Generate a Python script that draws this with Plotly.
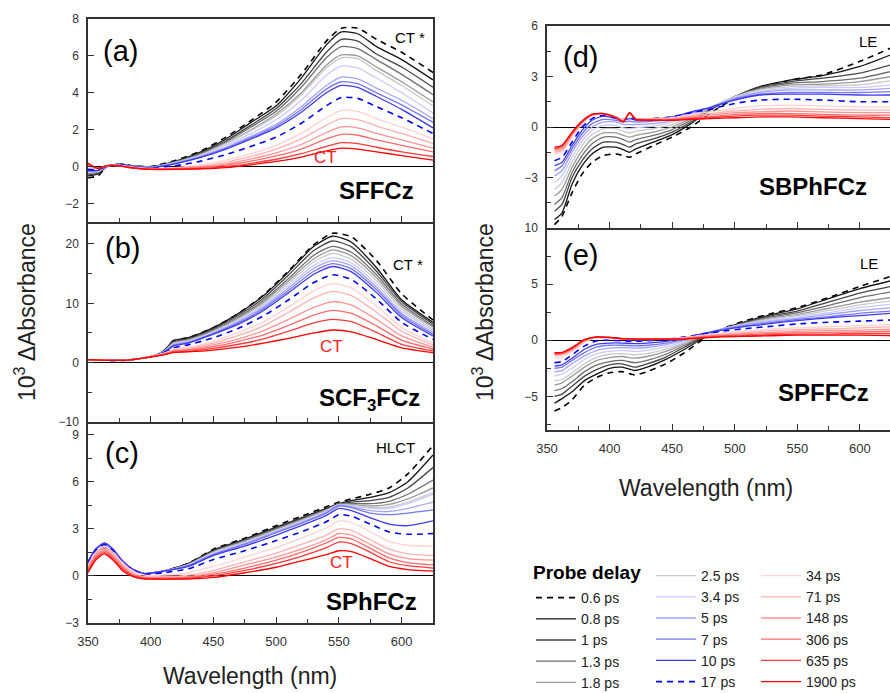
import plotly.graph_objects as go

# ---------------- data ----------------
delays = ["0.6 ps", "0.8 ps", "1 ps", "1.3 ps", "1.8 ps", "2.5 ps", "3.4 ps", "5 ps", "7 ps",
          "10 ps", "17 ps", "34 ps", "71 ps", "148 ps", "306 ps", "635 ps", "1900 ps"]

colors = ["#000000", "#151515", "#454545", "#6e6e6e", "#9a9a9a", "#c9c9c9",
          "#cacaff", "#a4a4ff", "#7676f2", "#3c3cee", "#0000ff",
          "#ffd2d2", "#ffb2b2", "#ff9292", "#ff6a6a", "#ff3a3a", "#ff0000"]

legend_cols = ["legend"] * 5 + ["legend2"] * 6 + ["legend3"] * 6

# (a) SFFCz
wl_a = [350, 358, 365, 375, 385, 400, 420, 440, 460, 480, 500, 520, 540, 552, 565, 580, 600, 625]
SFFCz = [
    [-0.6, -0.5, 0.0, 0.15, 0.05, 0.0, 0.35, 0.85, 1.6, 2.5, 3.5, 5.0, 6.8, 7.5, 7.5, 6.9, 6.2, 5.1],
    [-0.5, -0.4, 0.0, 0.15, 0.05, 0.0, 0.3, 0.8, 1.5, 2.4, 3.3, 4.8, 6.6, 7.3, 7.2, 6.5, 5.8, 4.7],
    [-0.45, -0.35, 0.0, 0.12, 0.03, -0.02, 0.28, 0.75, 1.4, 2.25, 3.15, 4.5, 6.2, 6.9, 6.8, 6.1, 5.4, 4.3],
    [-0.4, -0.3, 0.0, 0.12, 0.02, -0.03, 0.26, 0.7, 1.35, 2.15, 3.0, 4.3, 5.9, 6.5, 6.4, 5.8, 5.0, 3.9],
    [-0.35, -0.3, 0.02, 0.12, 0.02, -0.04, 0.24, 0.66, 1.28, 2.0, 2.85, 4.0, 5.5, 6.05, 6.0, 5.4, 4.6, 3.5],
    [-0.3, -0.25, 0.02, 0.12, 0.02, -0.04, 0.23, 0.64, 1.24, 1.95, 2.75, 3.9, 5.35, 5.9, 5.85, 5.2, 4.4, 3.3],
    [-0.3, -0.25, 0.02, 0.12, 0.02, -0.05, 0.22, 0.6, 1.15, 1.8, 2.55, 3.6, 4.95, 5.45, 5.35, 4.8, 4.0, 2.9],
    [-0.25, -0.2, 0.03, 0.12, 0.02, -0.05, 0.2, 0.56, 1.05, 1.65, 2.3, 3.25, 4.4, 4.85, 4.75, 4.25, 3.6, 2.6],
    [-0.25, -0.2, 0.03, 0.12, 0.02, -0.05, 0.18, 0.53, 1.0, 1.58, 2.2, 3.1, 4.2, 4.6, 4.5, 4.0, 3.35, 2.4],
    [-0.2, -0.2, 0.03, 0.12, 0.02, -0.06, 0.16, 0.5, 0.95, 1.5, 2.1, 2.95, 4.0, 4.4, 4.3, 3.8, 3.1, 2.1],
    [-0.15, -0.15, 0.04, 0.1, 0.0, -0.08, 0.05, 0.3, 0.65, 1.1, 1.6, 2.35, 3.3, 3.75, 3.7, 3.25, 2.65, 1.8],
    [0.0, -0.1, 0.05, 0.08, -0.02, -0.1, -0.05, 0.1, 0.35, 0.7, 1.15, 1.8, 2.65, 3.05, 3.0, 2.6, 2.15, 1.5],
    [0.05, -0.1, 0.05, 0.06, -0.05, -0.12, -0.08, 0.03, 0.25, 0.55, 0.95, 1.5, 2.25, 2.6, 2.55, 2.2, 1.8, 1.25],
    [0.1, -0.1, 0.05, 0.05, -0.05, -0.13, -0.1, -0.02, 0.15, 0.42, 0.75, 1.2, 1.85, 2.15, 2.1, 1.8, 1.45, 1.0],
    [0.1, -0.1, 0.05, 0.05, -0.06, -0.14, -0.12, -0.06, 0.08, 0.3, 0.58, 0.95, 1.5, 1.75, 1.7, 1.45, 1.15, 0.8],
    [0.15, -0.1, 0.05, 0.04, -0.06, -0.15, -0.14, -0.1, 0.0, 0.18, 0.4, 0.7, 1.1, 1.3, 1.25, 1.05, 0.8, 0.55],
    [0.2, -0.1, 0.05, 0.04, -0.07, -0.15, -0.15, -0.12, -0.05, 0.1, 0.28, 0.52, 0.85, 1.0, 0.95, 0.8, 0.6, 0.35],
]

# (b) SCF3FCz
wl_b = [350, 365, 380, 395, 405, 412, 418, 430, 450, 470, 490, 510, 530, 545, 560, 580, 600, 625]
SCF3FCz = [
    [0.5, 0.4, 0.4, 0.8, 1.3, 2.3, 3.7, 4.2, 5.9, 8.3, 11.4, 15.5, 19.9, 21.8, 21.2, 17.2, 11.6, 7.2],
    [0.5, 0.4, 0.4, 0.8, 1.3, 2.3, 3.7, 4.2, 5.9, 8.3, 11.3, 15.3, 19.6, 21.3, 20.3, 16.0, 10.6, 6.8],
    [0.5, 0.4, 0.4, 0.8, 1.3, 2.2, 3.5, 4.0, 5.7, 8.0, 10.9, 14.8, 18.9, 20.5, 19.5, 15.4, 10.3, 6.5],
    [0.5, 0.4, 0.4, 0.8, 1.3, 2.2, 3.4, 3.9, 5.5, 7.7, 10.5, 14.2, 18.1, 19.6, 18.6, 14.8, 9.9, 6.2],
    [0.5, 0.4, 0.4, 0.8, 1.3, 2.1, 3.3, 3.8, 5.4, 7.5, 10.2, 13.8, 17.5, 19.0, 18.0, 14.3, 9.5, 6.0],
    [0.5, 0.4, 0.4, 0.8, 1.3, 2.1, 3.2, 3.7, 5.2, 7.3, 9.9, 13.4, 17.0, 18.4, 17.4, 13.8, 9.1, 5.7],
    [0.5, 0.4, 0.4, 0.8, 1.3, 2.0, 3.1, 3.6, 5.1, 7.1, 9.6, 13.0, 16.4, 17.7, 16.8, 13.2, 8.7, 5.4],
    [0.5, 0.4, 0.4, 0.8, 1.3, 2.0, 3.0, 3.5, 5.0, 6.9, 9.4, 12.6, 15.9, 17.2, 16.3, 12.7, 8.3, 5.1],
    [0.5, 0.4, 0.4, 0.8, 1.3, 2.0, 2.9, 3.4, 4.9, 6.7, 9.1, 12.2, 15.4, 16.7, 15.8, 12.3, 8.0, 4.8],
    [0.5, 0.4, 0.4, 0.8, 1.3, 1.9, 2.8, 3.3, 4.8, 6.5, 8.8, 11.8, 14.9, 16.2, 15.3, 11.8, 7.6, 4.5],
    [0.5, 0.4, 0.4, 0.8, 1.3, 1.8, 2.5, 3.0, 4.2, 5.8, 7.9, 10.6, 13.5, 14.8, 14.0, 10.7, 6.8, 3.9],
    [0.5, 0.4, 0.4, 0.8, 1.3, 1.7, 2.2, 2.6, 3.6, 5.1, 6.9, 9.4, 12.1, 13.3, 12.6, 9.5, 5.9, 3.3],
    [0.5, 0.4, 0.4, 0.8, 1.3, 1.6, 2.1, 2.4, 3.3, 4.6, 6.2, 8.5, 10.9, 12.0, 11.3, 8.5, 5.3, 3.0],
    [0.5, 0.4, 0.4, 0.8, 1.2, 1.5, 2.0, 2.2, 3.0, 4.0, 5.4, 7.3, 9.3, 10.3, 9.7, 7.3, 4.5, 2.6],
    [0.5, 0.4, 0.4, 0.8, 1.2, 1.5, 1.9, 2.1, 2.7, 3.6, 4.7, 6.3, 8.0, 8.8, 8.3, 6.2, 3.8, 2.3],
    [0.5, 0.4, 0.4, 0.8, 1.2, 1.4, 1.8, 1.9, 2.4, 3.1, 4.0, 5.3, 6.7, 7.3, 6.9, 5.1, 3.1, 2.0],
    [0.5, 0.4, 0.4, 0.8, 1.1, 1.4, 1.7, 1.8, 2.1, 2.6, 3.3, 4.1, 5.0, 5.5, 5.2, 3.9, 2.5, 1.7],
]

# (c) SPhFCz
wl_c = [350, 356, 363, 370, 378, 386, 395, 410, 430, 450, 475, 500, 520, 540, 550, 560, 575, 590, 605, 625]
SPhFCz = [
    [0.8, 1.5, 1.8, 1.5, 0.9, 0.4, 0.15, 0.3, 0.8, 1.7, 2.4, 3.2, 3.8, 4.4, 4.7, 4.9, 5.2, 5.6, 6.5, 8.3],
    [0.9, 1.5, 1.8, 1.5, 0.9, 0.4, 0.15, 0.3, 0.8, 1.65, 2.35, 3.1, 3.7, 4.3, 4.6, 4.8, 5.0, 5.3, 6.0, 7.7],
    [0.9, 1.5, 1.8, 1.5, 0.9, 0.4, 0.15, 0.3, 0.75, 1.6, 2.3, 3.05, 3.65, 4.25, 4.55, 4.7, 4.8, 5.0, 5.6, 6.9],
    [0.9, 1.5, 1.9, 1.5, 0.9, 0.4, 0.15, 0.3, 0.75, 1.55, 2.25, 3.0, 3.6, 4.2, 4.55, 4.6, 4.6, 4.75, 5.2, 6.1],
    [0.9, 1.6, 1.9, 1.6, 0.9, 0.4, 0.15, 0.3, 0.72, 1.5, 2.2, 2.95, 3.55, 4.2, 4.55, 4.55, 4.45, 4.55, 4.9, 5.6],
    [0.9, 1.6, 1.9, 1.6, 0.9, 0.4, 0.15, 0.3, 0.7, 1.5, 2.15, 2.9, 3.5, 4.15, 4.55, 4.5, 4.35, 4.4, 4.7, 5.3],
    [0.9, 1.6, 2.0, 1.6, 0.9, 0.4, 0.15, 0.3, 0.7, 1.45, 2.1, 2.85, 3.45, 4.1, 4.5, 4.45, 4.3, 4.3, 4.6, 5.2],
    [0.9, 1.7, 2.0, 1.6, 0.9, 0.4, 0.15, 0.3, 0.68, 1.4, 2.05, 2.8, 3.4, 4.05, 4.5, 4.4, 4.15, 4.1, 4.3, 4.7],
    [0.9, 1.7, 2.1, 1.7, 0.9, 0.4, 0.15, 0.3, 0.65, 1.35, 2.0, 2.75, 3.35, 4.0, 4.45, 4.35, 4.0, 3.9, 4.0, 4.2],
    [0.9, 1.7, 2.1, 1.7, 0.9, 0.4, 0.15, 0.3, 0.6, 1.3, 1.9, 2.6, 3.2, 3.85, 4.3, 4.15, 3.7, 3.3, 3.2, 3.5],
    [0.8, 1.6, 2.0, 1.6, 0.8, 0.35, 0.1, 0.2, 0.45, 1.05, 1.6, 2.25, 2.8, 3.45, 3.9, 3.8, 3.3, 2.8, 2.65, 2.7],
    [0.7, 1.5, 1.9, 1.5, 0.8, 0.3, 0.05, 0.05, 0.2, 0.6, 1.2, 1.8, 2.4, 3.05, 3.5, 3.4, 2.8, 2.2, 1.95, 1.9],
    [0.6, 1.4, 1.8, 1.4, 0.7, 0.2, -0.05, -0.05, 0.05, 0.35, 0.9, 1.45, 2.0, 2.6, 3.0, 2.9, 2.3, 1.7, 1.4, 1.3],
    [0.5, 1.3, 1.7, 1.3, 0.6, 0.1, -0.1, -0.1, -0.05, 0.2, 0.7, 1.2, 1.7, 2.3, 2.7, 2.6, 2.0, 1.4, 1.1, 1.0],
    [0.4, 1.2, 1.6, 1.2, 0.5, 0.05, -0.15, -0.15, -0.1, 0.1, 0.5, 1.0, 1.5, 2.1, 2.45, 2.35, 1.75, 1.15, 0.85, 0.7],
    [0.3, 1.1, 1.5, 1.1, 0.4, 0.0, -0.15, -0.2, -0.15, 0.0, 0.35, 0.8, 1.25, 1.8, 2.15, 2.05, 1.5, 0.9, 0.65, 0.5],
    [0.2, 1.0, 1.4, 1.0, 0.3, -0.05, -0.2, -0.2, -0.2, -0.1, 0.2, 0.55, 0.95, 1.35, 1.6, 1.55, 1.1, 0.6, 0.4, 0.3],
]

# (d) SBPhFCz
wl_d = [356, 362, 370, 378, 386, 395, 405, 411, 416, 421, 435, 450, 465, 480, 500, 520, 545, 570, 600, 625]
SBPhFCz = [
    [-5.8, -5.3, -3.9, -2.8, -2.1, -1.7, -1.6, -1.7, -1.8, -1.6, -1.1, -0.6, 0.0, 0.8, 1.7, 2.3, 2.8, 3.1, 3.9, 4.7],
    [-5.5, -5.1, -3.4, -2.3, -1.6, -1.2, -1.2, -1.35, -1.5, -1.3, -0.9, -0.45, 0.2, 1.0, 1.8, 2.4, 2.8, 3.05, 3.6, 4.3],
    [-5.0, -4.6, -3.0, -2.0, -1.3, -0.9, -0.9, -1.05, -1.2, -1.0, -0.7, -0.3, 0.3, 1.0, 1.8, 2.35, 2.7, 2.9, 3.2, 3.7],
    [-4.6, -4.2, -2.7, -1.7, -1.0, -0.6, -0.6, -0.75, -0.9, -0.75, -0.5, -0.15, 0.4, 1.05, 1.8, 2.3, 2.6, 2.7, 2.9, 3.3],
    [-4.1, -3.7, -2.4, -1.4, -0.7, -0.35, -0.35, -0.5, -0.6, -0.5, -0.3, 0.0, 0.5, 1.1, 1.8, 2.25, 2.5, 2.55, 2.7, 3.0],
    [-3.7, -3.3, -2.1, -1.1, -0.45, -0.1, -0.1, -0.25, -0.35, -0.25, -0.1, 0.15, 0.6, 1.15, 1.8, 2.2, 2.4, 2.45, 2.5, 2.75],
    [-3.3, -2.9, -1.8, -0.85, -0.2, 0.1, 0.1, -0.05, -0.1, -0.05, 0.05, 0.3, 0.7, 1.15, 1.75, 2.1, 2.3, 2.35, 2.35, 2.5],
    [-2.9, -2.6, -1.5, -0.6, 0.0, 0.3, 0.3, 0.15, 0.15, 0.15, 0.2, 0.4, 0.8, 1.15, 1.7, 2.05, 2.2, 2.2, 2.2, 2.3],
    [-2.6, -2.3, -1.3, -0.4, 0.2, 0.45, 0.4, 0.3, 0.35, 0.3, 0.35, 0.5, 0.85, 1.15, 1.65, 1.95, 2.05, 2.05, 2.05, 2.1],
    [-2.3, -2.1, -1.1, -0.2, 0.4, 0.65, 0.5, 0.4, 0.5, 0.4, 0.45, 0.6, 0.9, 1.15, 1.6, 1.9, 1.95, 1.95, 1.9, 1.9],
    [-2.0, -1.8, -0.9, 0.0, 0.5, 0.7, 0.55, 0.45, 0.6, 0.45, 0.5, 0.6, 0.85, 1.05, 1.4, 1.6, 1.65, 1.6, 1.5, 1.5],
    [-1.6, -1.5, -0.6, 0.2, 0.65, 0.8, 0.6, 0.45, 0.75, 0.5, 0.5, 0.55, 0.75, 0.9, 1.1, 1.25, 1.3, 1.25, 1.2, 1.2],
    [-1.5, -1.4, -0.5, 0.25, 0.7, 0.8, 0.6, 0.4, 0.8, 0.5, 0.5, 0.5, 0.65, 0.8, 0.95, 1.05, 1.1, 1.05, 1.0, 1.0],
    [-1.4, -1.3, -0.45, 0.3, 0.7, 0.8, 0.6, 0.35, 0.85, 0.5, 0.45, 0.45, 0.6, 0.7, 0.85, 0.9, 0.95, 0.9, 0.85, 0.85],
    [-1.3, -1.2, -0.4, 0.3, 0.75, 0.8, 0.6, 0.35, 0.85, 0.45, 0.45, 0.45, 0.55, 0.6, 0.75, 0.8, 0.8, 0.75, 0.7, 0.7],
    [-1.3, -1.1, -0.35, 0.3, 0.75, 0.8, 0.55, 0.35, 0.85, 0.45, 0.4, 0.4, 0.5, 0.55, 0.65, 0.7, 0.7, 0.65, 0.6, 0.55],
    [-1.2, -1.1, -0.3, 0.35, 0.75, 0.8, 0.55, 0.3, 0.85, 0.45, 0.4, 0.4, 0.45, 0.5, 0.55, 0.6, 0.6, 0.55, 0.5, 0.45],
]

# (e) SPFFCz
wl_e = [356, 362, 370, 380, 390, 400, 410, 420, 430, 445, 460, 475, 490, 510, 530, 550, 575, 600, 625]
SPFFCz = [
    [-6.3, -6.0, -5.3, -4.0, -3.3, -2.9, -2.8, -3.1, -2.8, -2.1, -1.1, 0.1, 1.0, 1.8, 2.4, 2.9, 3.8, 4.8, 5.7],
    [-5.6, -5.2, -4.6, -3.6, -3.0, -2.5, -2.4, -2.7, -2.4, -1.7, -0.8, 0.2, 1.0, 1.7, 2.3, 2.8, 3.7, 4.6, 5.3],
    [-5.0, -4.8, -4.1, -3.2, -2.6, -2.2, -2.1, -2.4, -2.1, -1.5, -0.6, 0.3, 1.0, 1.65, 2.2, 2.6, 3.4, 4.2, 4.8],
    [-4.5, -4.3, -3.7, -2.8, -2.2, -1.9, -1.8, -2.0, -1.8, -1.25, -0.45, 0.35, 1.0, 1.6, 2.1, 2.45, 3.1, 3.8, 4.3],
    [-4.0, -3.8, -3.2, -2.4, -1.8, -1.55, -1.45, -1.6, -1.45, -1.0, -0.3, 0.4, 1.0, 1.55, 2.0, 2.3, 2.85, 3.4, 3.8],
    [-3.6, -3.5, -2.9, -2.1, -1.5, -1.25, -1.2, -1.3, -1.2, -0.8, -0.2, 0.45, 1.0, 1.5, 1.9, 2.2, 2.65, 3.15, 3.5],
    [-3.2, -3.0, -2.5, -1.7, -1.2, -1.0, -0.9, -1.0, -0.9, -0.6, -0.1, 0.5, 1.0, 1.45, 1.8, 2.1, 2.45, 2.9, 3.2],
    [-2.8, -2.7, -2.1, -1.4, -0.9, -0.7, -0.65, -0.7, -0.65, -0.4, 0.0, 0.55, 1.0, 1.4, 1.7, 1.95, 2.3, 2.65, 2.9],
    [-2.5, -2.4, -1.8, -1.1, -0.6, -0.45, -0.45, -0.5, -0.45, -0.25, 0.1, 0.55, 0.95, 1.3, 1.6, 1.85, 2.1, 2.4, 2.6],
    [-2.3, -2.2, -1.6, -0.8, -0.35, -0.25, -0.25, -0.3, -0.25, -0.1, 0.2, 0.6, 0.9, 1.25, 1.5, 1.75, 2.0, 2.2, 2.4],
    [-2.0, -1.9, -1.3, -0.5, -0.05, 0.0, -0.05, -0.1, -0.05, 0.05, 0.3, 0.55, 0.8, 1.05, 1.25, 1.45, 1.6, 1.7, 1.8],
    [-1.6, -1.5, -1.0, -0.2, 0.2, 0.15, 0.1, 0.05, 0.05, 0.1, 0.25, 0.45, 0.65, 0.85, 1.0, 1.1, 1.2, 1.3, 1.4],
    [-1.4, -1.3, -0.9, -0.1, 0.25, 0.2, 0.15, 0.1, 0.1, 0.1, 0.2, 0.4, 0.55, 0.7, 0.85, 0.95, 1.0, 1.1, 1.2],
    [-1.3, -1.2, -0.8, -0.05, 0.3, 0.25, 0.15, 0.1, 0.1, 0.1, 0.2, 0.35, 0.45, 0.6, 0.7, 0.8, 0.85, 0.9, 1.0],
    [-1.2, -1.2, -0.75, 0.0, 0.3, 0.25, 0.15, 0.1, 0.1, 0.1, 0.15, 0.3, 0.4, 0.5, 0.6, 0.65, 0.7, 0.75, 0.8],
    [-1.2, -1.1, -0.7, 0.05, 0.3, 0.25, 0.15, 0.1, 0.1, 0.1, 0.15, 0.25, 0.35, 0.4, 0.5, 0.55, 0.55, 0.6, 0.6],
    [-1.1, -1.1, -0.65, 0.05, 0.3, 0.25, 0.15, 0.1, 0.1, 0.1, 0.1, 0.2, 0.3, 0.35, 0.4, 0.45, 0.45, 0.45, 0.4],
]

# ---------------- figure ----------------
W, H = 890, 693
FONT = "Liberation Sans, Arial, sans-serif"
AX = "#333333"


def px(x):
    return x / W


def py(y):
    return 1 - y / H


fig = go.Figure()

panels = [
    (wl_a, SFFCz, "x", "y"),
    (wl_b, SCF3FCz, "x2", "y2"),
    (wl_c, SPhFCz, "x3", "y3"),
    (wl_d, SBPhFCz, "x4", "y4"),
    (wl_e, SPFFCz, "x5", "y5"),
]

for p, (wl, data, xa, ya) in enumerate(panels):
    for i, name in enumerate(delays):
        dashed = i in (0, 10)
        fig.add_trace(go.Scatter(
            x=wl, y=data[i], mode="lines", name=name,
            xaxis=xa, yaxis=ya,
            line=dict(color=colors[i], width=1.6 if dashed else 1.3,
                      dash="6px,5px" if dashed else "solid", shape="spline", smoothing=0.6),
            showlegend=(p == 0), legend=legend_cols[i],
            hoverinfo="skip",
        ))

XL = [px(88), px(433)]
XR = [px(547), 1.0]

common_x = dict(showline=True, linecolor=AX, linewidth=1.5, ticks="inside", ticklen=6,
                tickcolor=AX, tickwidth=1.2, showgrid=False, zeroline=False,
                tickvals=[350, 400, 450, 500, 550, 600],
                minor=dict(ticks="inside", ticklen=4, tickcolor=AX, tickwidth=1.2,
                           tickvals=[375, 425, 475, 525, 575, 625], showgrid=False),
                tickfont=dict(family=FONT, size=13, color=AX), ticklabelstandoff=6)
common_y = dict(showline=True, linecolor=AX, linewidth=1.5, ticks="inside", ticklen=6,
                tickcolor=AX, tickwidth=1.2, showgrid=False, zeroline=True,
                zerolinecolor="#000000", zerolinewidth=1.4,
                tickfont=dict(family=FONT, size=12, color=AX), ticklabelstandoff=5)


def yaxis(dom, rng, vals, minor_vals, mirror=True, anchor="x"):
    d = dict(common_y)
    d.update(domain=dom, range=rng, tickvals=vals, mirror=mirror, anchor=anchor,
             minor=dict(ticks="inside", ticklen=4, tickcolor=AX, tickwidth=1.2,
                        tickvals=minor_vals, showgrid=False))
    return d


def xaxis(dom, rng, anchor, labels, mirror):
    d = dict(common_x)
    d.update(domain=dom, range=rng, anchor=anchor, mirror=mirror, showticklabels=labels)
    return d


fig.update_layout(
    xaxis=xaxis(XL, [350, 625], "y", False, True),
    xaxis2=xaxis(XL, [350, 625], "y2", False, False),
    xaxis3=xaxis(XL, [350, 625], "y3", True, False),
    xaxis4=xaxis(XR, [350, 624], "y4", False, True),
    xaxis5=xaxis(XR, [350, 624], "y5", True, False),
    yaxis=yaxis([py(222), py(19)], [-3, 8], [-2, 0, 2, 4, 6, 8], [], anchor="x"),
    yaxis2=yaxis([py(422), py(222)], [-10, 23.7], [-10, 0, 10, 20], [-5, 5, 15], anchor="x2"),
    yaxis3=yaxis([py(623), py(422)], [-3, 9.8], [-3, 0, 3, 6, 9], [-1.5, 1.5, 4.5, 7.5], anchor="x3"),
    yaxis4=yaxis([py(228), py(26)], [-6, 6], [-3, 0, 3, 6], [-4.5, -1.5, 1.5, 4.5], mirror=False, anchor="x4"),
    yaxis5=yaxis([py(430), py(228)], [-8, 10], [-5, 0, 5, 10], [-7.5, -2.5, 2.5, 7.5], mirror=False, anchor="x5"),
)

leg_common = dict(bgcolor="rgba(0,0,0,0)", borderwidth=0, itemwidth=40,
                  font=dict(family=FONT, size=14, color="#222222"),
                  xanchor="left", yanchor="top", tracegroupgap=0)
fig.update_layout(
    legend=dict(leg_common, x=px(531), y=py(582)),
    legend2=dict(leg_common, x=px(651), y=py(560)),
    legend3=dict(leg_common, x=px(756), y=py(560)),
)

ann = []


def text(x, y, s, size, color="#000000", bold=False, angle=0, xanchor="center"):
    ann.append(dict(x=px(x), y=py(y), xref="paper", yref="paper", text=f"<b>{s}</b>" if bold else s,
                    showarrow=False, xanchor=xanchor, yanchor="middle", textangle=angle,
                    font=dict(family=FONT, size=size, color=color)))


for lab, x, y in [("(a)", 121, 51), ("(b)", 122, 248), ("(c)", 122, 453), ("(d)", 580, 57), ("(e)", 580, 255)]:
    text(x, y, lab, 29)

text(376, 190, "SFFCz", 24, bold=True)
text(369, 399, "SCF<sub>3</sub>FCz", 24, bold=True)
text(371, 601, "SPhFCz", 24, bold=True)
text(813, 187, "SBPhFCz", 24, bold=True)
text(823, 392, "SPFFCz", 24, bold=True)

text(410, 37, "CT *", 15)
text(325, 158, "CT", 17, color="#ff2020")
text(408, 264, "CT *", 15)
text(331, 347, "CT", 17, color="#ff2020")
text(395, 447, "HLCT", 15)
text(341, 562, "CT", 17, color="#ff2020")
text(868, 42, "LE", 15)
text(869, 263, "LE", 15)

text(250, 676, "Wavelength (nm)", 23, color="#222222")
text(706, 488, "Wavelength (nm)", 23, color="#222222")
text(25, 312, "10<sup>3</sup> \u0394Absorbance", 23, color="#222222", angle=-90)
text(483, 312, "10<sup>3</sup> \u0394Absorbance", 23, color="#222222", angle=-90)

text(531, 572, "Probe delay", 19, bold=True, xanchor="left")

fig.update_layout(
    annotations=ann,
    width=W, height=H,
    margin=dict(l=0, r=0, t=0, b=0, autoexpand=False),
    paper_bgcolor="white", plot_bgcolor="white",
    font=dict(family=FONT),
)

fig.write_html("out.html")
